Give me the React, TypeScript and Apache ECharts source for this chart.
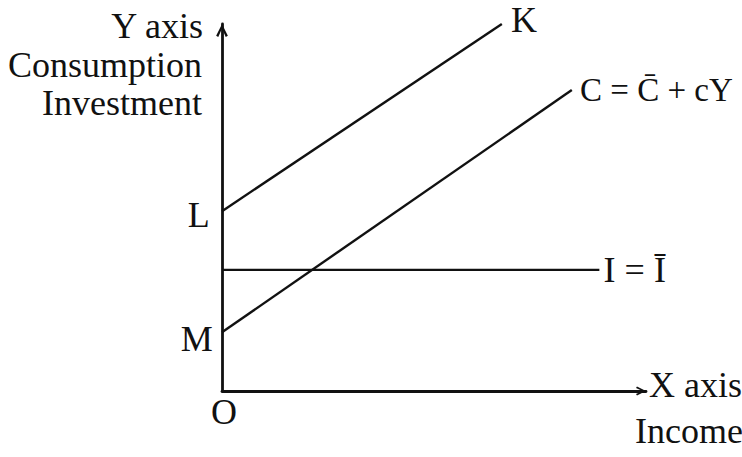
import React, { useEffect, useRef } from "react";
import * as echarts from "echarts";

// Values (axis units 0..100)
const pointL = [0, 49];
const pointK = [66, 100];
const pointM = [0, 16];
const pointC = [82.5, 82];
const investStart = [0, 33];
const investEnd = [89, 33];

const labelK = "K";
const labelL = "L";
const labelM = "M";
const labelC = "C = C\u0304 + cY";
const labelI = "I = I\u0304";
const yTitles = ["Y axis", "Consumption", "Investment"];
const xTitles = ["X axis", "Income"];
const originLabel = "O";

const FONT = "'Liberation Serif', 'Times New Roman', serif";
const INK = "#111";

export default function App() {
  const ref = useRef<HTMLDivElement>(null);
  useEffect(() => {
    if (!ref.current) return;
    const chart = echarts.init(ref.current, undefined, { renderer: "svg" });
    const arrow = "path://M0,10 L5,0 L10,10 L8.2,11.1 L5,3.8 L1.8,11.1 Z";
    const lbl = (text: string, position: string, distance: number, offset: number[], size = 36) => ({
      show: true,
      formatter: text,
      position,
      distance,
      offset,
      color: INK,
      fontFamily: FONT,
      fontSize: size,
    });
    const lineSeries = (data: any[]) => ({
      type: "line",
      data,
      symbol: "circle",
      symbolSize: 0.5,
      showSymbol: true,
      itemStyle: { color: "rgba(0,0,0,0)" },
      clip: false,
      silent: true,
      lineStyle: { color: INK, width: 2.4 },
    });
    const txt = (text: string, x: number, y: number, align: string) => ({
      type: "text",
      x,
      y,
      style: {
        text,
        fill: INK,
        font: `36px ${FONT}`,
        textAlign: align,
        textVerticalAlign: "middle",
      },
    });
    chart.setOption({
      animation: false,
      backgroundColor: "#ffffff",
      grid: { left: 222, top: 24, width: 424, height: 367 },
      xAxis: {
        type: "value",
        min: 0,
        max: 100,
        splitLine: { show: false },
        axisTick: { show: false },
        axisLabel: { show: false },
        axisLine: {
          show: true,
          onZero: false,
          lineStyle: { color: INK, width: 2.8 },
          symbol: ["none", arrow],
          symbolSize: [10, 10],
          symbolOffset: [0, -5],
        },
      },
      yAxis: {
        type: "value",
        min: 0,
        max: 100,
        splitLine: { show: false },
        axisTick: { show: false },
        axisLabel: { show: false },
        axisLine: {
          show: true,
          onZero: false,
          lineStyle: { color: INK, width: 2.8 },
          symbol: ["none", arrow],
          symbolSize: [14, 13],
          symbolOffset: [0, -6.5],
        },
      },
      series: [
        lineSeries([
          { value: pointL, label: lbl(labelL, "left", 12, [0, 4]) },
          { value: pointK, label: lbl(labelK, "right", 9, [0, -4]) },
        ]),
        lineSeries([
          { value: pointM, label: lbl(labelM, "left", 9, [0, 7]) },
          { value: pointC, label: lbl(labelC, "right", 8, [0, 0], 33) },
        ]),
        lineSeries([
          { value: investStart },
          { value: investEnd, label: lbl(labelI, "right", 4, [0, 0]) },
        ]),
      ],
      graphic: [
        txt(yTitles[0], 203, 26, "right"),
        txt(yTitles[1], 202, 65, "right"),
        txt(yTitles[2], 202, 103, "right"),
        txt(xTitles[0], 649, 385, "left"),
        txt(xTitles[1], 635, 431, "left"),
        txt(originLabel, 224, 412, "center"),
      ],
    });
    return () => chart.dispose();
  }, []);
  return (
    <div
      ref={ref}
      style={{ position: "absolute", left: 0, top: 0, width: 742, height: 457, background: "#fff" }}
    />
  );
}
